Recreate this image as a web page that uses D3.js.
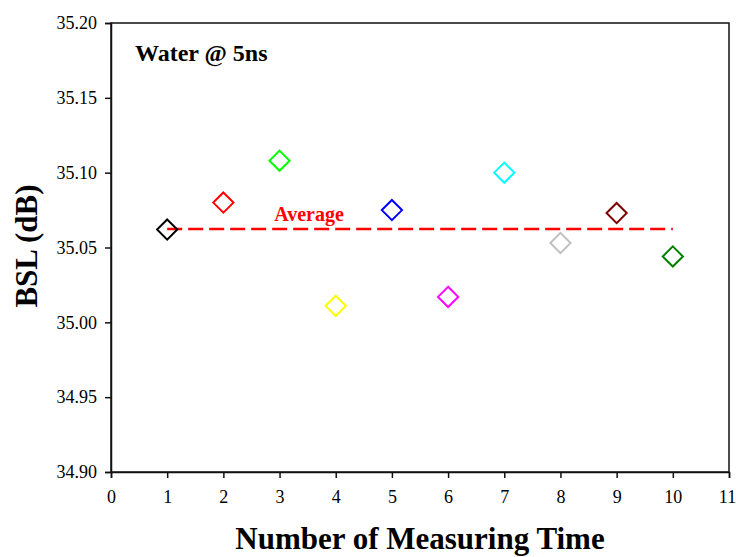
<!DOCTYPE html>
<html><head><meta charset="utf-8">
<script src="https://cdn.jsdelivr.net/npm/d3@7"></script>
<style>body{margin:0;background:#fff}svg{display:block}text{font-family:"Liberation Serif","Times New Roman",serif}</style>
</head><body><svg id="c" width="736" height="557"></svg>
<script>
const measurements = [1,2,3,4,5,6,7,8,9,10];
const bslValues = [35.062,35.080,35.108,35.011,35.075,35.017,35.100,35.053,35.073,35.044];
const markerColors = ["#000000","#ff0000","#00ff00","#ffff00","#0000ff","#ff00ff","#00ffff","#c0c0c0","#800000","#008000"];
const xTicks = [0,1,2,3,4,5,6,7,8,9,10,11];
const yTicks = [34.90,34.95,35.00,35.05,35.10,35.15,35.20];
const averageValue = d3.mean(bslValues);

const svg = d3.select("#c");
const L=111, R=729, T=23, B=472;
const x = d3.scaleLinear().domain([0,11]).range([L,R]);
const y = d3.scaleLinear().domain([34.90,35.20]).range([B,T]);

svg.append("rect").attr("x",L).attr("y",T).attr("width",R-L).attr("height",B-T)
  .attr("fill","none").attr("stroke","#111").attr("stroke-width",1.5);

const xa = svg.append("g").attr("transform",`translate(0,${B})`)
  .call(d3.axisBottom(x).tickValues(xTicks).tickFormat(d3.format("d")).tickSizeOuter(0).tickSize(6).tickPadding(12));
const ya = svg.append("g").attr("transform",`translate(${L},0)`)
  .call(d3.axisLeft(y).tickValues(yTicks).tickFormat(d3.format(".2f")).tickSizeOuter(0).tickSize(6).tickPadding(8));
[xa,ya].forEach(g=>{
  g.selectAll("path").attr("stroke","#111").attr("stroke-width",1.5);
  g.selectAll("line").attr("stroke","#111").attr("stroke-width",1.5);
  g.selectAll("text").attr("font-size",18).attr("fill","#000").attr("font-family","'Liberation Serif',serif");
});
xa.selectAll(".tick text").filter(d=>d===11).attr("dx",-2);

svg.append("line").attr("x1",x(1)).attr("x2",x(10)).attr("y1",y(averageValue)).attr("y2",y(averageValue))
  .attr("stroke","#ff0000").attr("stroke-width",2.5).attr("stroke-dasharray","15,6");
svg.append("text").attr("x",309).attr("y",y(averageValue)-8).attr("text-anchor","middle")
  .attr("font-size",20).attr("font-weight","bold").attr("fill","#ff0000").text("Average");

const sym = d3.symbol().type(d3.symbolDiamond2).size(260);
svg.selectAll("path.pt").data(measurements).join("path").attr("class","pt")
  .attr("d",sym).attr("transform",(d,i)=>`translate(${x(d)},${y(bslValues[i])})`)
  .attr("fill","none").attr("stroke",(d,i)=>markerColors[i]).attr("stroke-width",2);

svg.append("text").attr("x",135).attr("y",61).attr("font-size",24).attr("font-weight","bold").text("Water @ 5ns");

svg.append("text").attr("x",420).attr("y",549).attr("text-anchor","middle")
  .attr("font-size",31).attr("font-weight","bold").text("Number of Measuring Time");
svg.append("text").attr("transform","translate(37,246) rotate(-90)").attr("text-anchor","middle")
  .attr("font-size",31).attr("font-weight","bold").text("BSL (dB)");
</script></body></html>
